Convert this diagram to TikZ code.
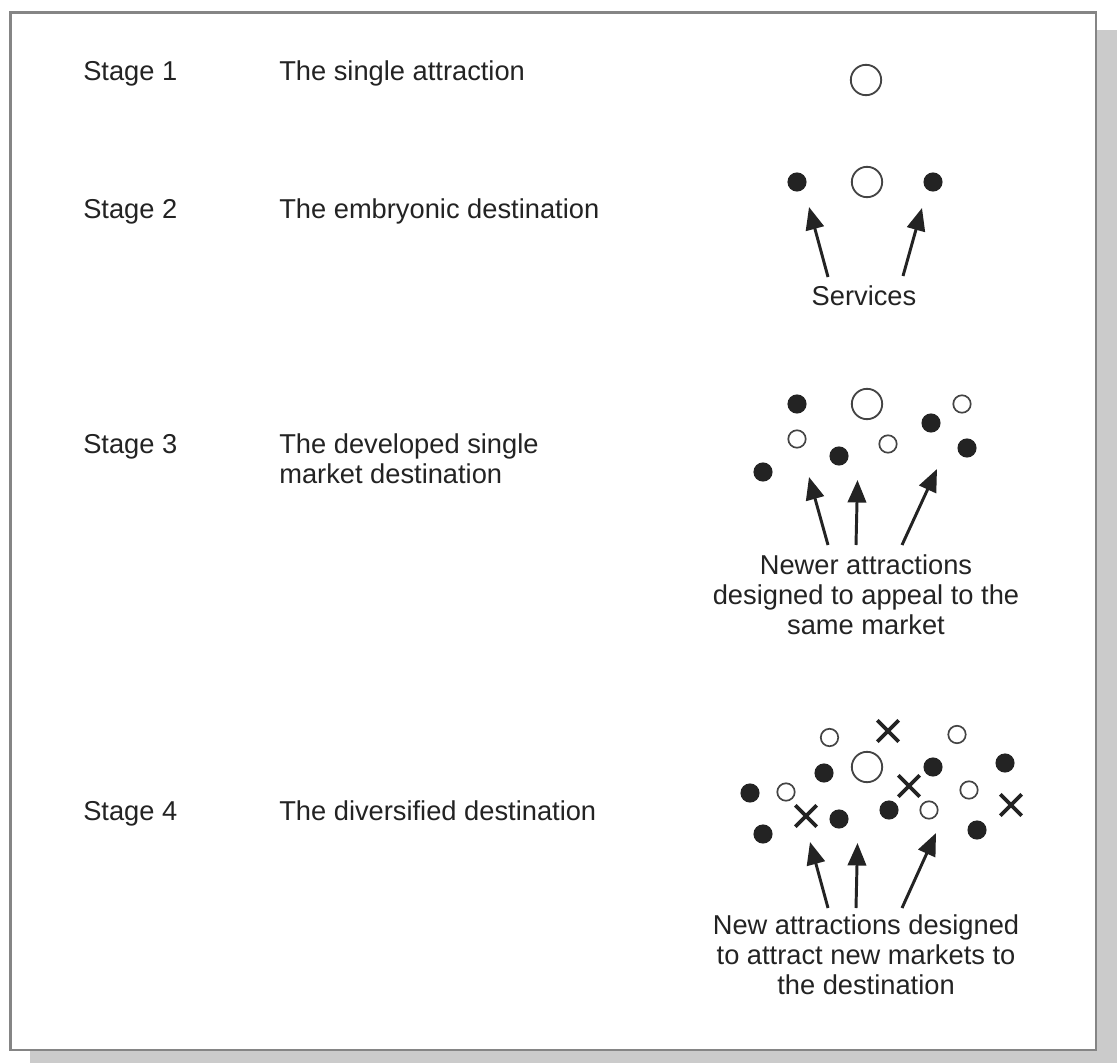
\documentclass[tikz,border=0pt]{standalone}
\usepackage{fontspec}
\setmainfont{Liberation Sans}
\usepackage{tikz}
\usetikzlibrary{arrows.meta,shapes.misc}
\definecolor{rim}{HTML}{858585}
\definecolor{shadowgrey}{HTML}{CBCBCB}
\definecolor{ink}{HTML}{232323}
\tikzset{dot/.style={circle,fill=ink,inner sep=0pt,minimum size=13.6pt},ring/.style={circle,draw=ink!85,line width=1.2pt,fill=white,inner sep=0pt,minimum size=12.4pt},bigring/.style={circle,draw=ink!85,line width=1.3pt,fill=white,inner sep=0pt,minimum size=21.6pt},cross/.style={cross out,draw=ink,line width=2.7pt,inner sep=0pt,minimum size=12.5pt},pointer/.style={-{Triangle[length=16pt,width=13pt]},draw=ink,line width=2.1pt},txt/.style={font=\fontsize{19.4}{21.2}\selectfont,text=ink,inner sep=0pt}}
\begin{document}
\begin{tikzpicture}[x=0.025cm,y=-0.025cm]
\useasboundingbox (0,0) rectangle (1117,1063);
\fill[shadowgrey] (30,30) rectangle (1117,1063);
\draw[rim,fill=white,line width=2pt] (10.5,12.5) rectangle (1096,1050);
\node[txt,anchor=base west] (s1) at (83,81) {Stage 1};
\node[txt,anchor=base west] (t1) at (279,81) {The single attraction};
\node[txt,anchor=base west] (s2) at (83,219) {Stage 2};
\node[txt,anchor=base west] (t2) at (279,219) {The embryonic destination};
\node[txt,anchor=base west] (s3) at (83,453) {Stage 3};
\node[txt,anchor=base west,align=left] (t3) at (279,483) {The developed single\\market destination};
\node[txt,anchor=base west] (s4) at (83,820) {Stage 4};
\node[txt,anchor=base west] (t4) at (279,820) {The diversified destination};
\node[bigring] (a1) at (866,80) {};
\node[dot] (b1) at (797,182) {};\node[bigring] (b2) at (867,182) {};\node[dot] (b3) at (933,182) {};
\node[txt,anchor=base] (sv) at (864,305) {Services};
\coordinate (bp1) at (828,277);\coordinate (bq1) at (809,207);
\coordinate (bp2) at (903,276);\coordinate (bq2) at (922,208);
\draw[pointer] (bp1)--(bq1);\draw[pointer] (bp2)--(bq2);
\node[dot] (c1) at (797,404) {};\node[bigring] (c2) at (867,404) {};\node[ring] (c3) at (962,404) {};
\node[ring] (c4) at (797,439) {};\node[dot] (c5) at (931,423) {};\node[ring] (c6) at (888,444) {};
\node[dot] (c7) at (839,456) {};\node[dot] (c8) at (967,448) {};\node[dot] (c9) at (763,472) {};
\node[txt,anchor=base,align=center] (nw) at (866,634) {Newer attractions\\designed to appeal to the\\same market};
\coordinate (cp1) at (828,545);\coordinate (cq1) at (809,477);
\coordinate (cp2) at (856,545);\coordinate (cq2) at (857.5,480);
\coordinate (cp3) at (902,545);\coordinate (cq3) at (937,469);
\draw[pointer] (cp1)--(cq1);\draw[pointer] (cp2)--(cq2);\draw[pointer] (cp3)--(cq3);
\node[ring] (d1) at (829.5,737.5) {};\node[cross] (d2) at (888,731) {};\node[ring] (d3) at (957,734.5) {};
\node[dot] (d4) at (824,773) {};\node[bigring] (d5) at (867,767) {};\node[dot] (d6) at (933,767) {};\node[dot] (d7) at (1005,763) {};
\node[dot] (d8) at (750,793) {};\node[ring] (d9) at (786,792) {};\node[cross] (d10) at (909,786) {};\node[ring] (d11) at (969,790) {};
\node[cross] (d12) at (806,816) {};\node[dot] (d13) at (839,819) {};\node[dot] (d14) at (889,810) {};\node[ring] (d15) at (929,810) {};\node[cross] (d16) at (1011,805) {};
\node[dot] (d17) at (763,834) {};\node[dot] (d18) at (977,830) {};
\node[txt,anchor=base,align=center] (nm) at (866,994) {New attractions designed\\to attract new markets to\\the destination};
\coordinate (dp1) at (828,908);\coordinate (dq1) at (810,842);
\coordinate (dp2) at (856,908);\coordinate (dq2) at (857.5,843);
\coordinate (dp3) at (902,908);\coordinate (dq3) at (936,833);
\draw[pointer] (dp1)--(dq1);\draw[pointer] (dp2)--(dq2);\draw[pointer] (dp3)--(dq3);
\end{tikzpicture}
\end{document}
